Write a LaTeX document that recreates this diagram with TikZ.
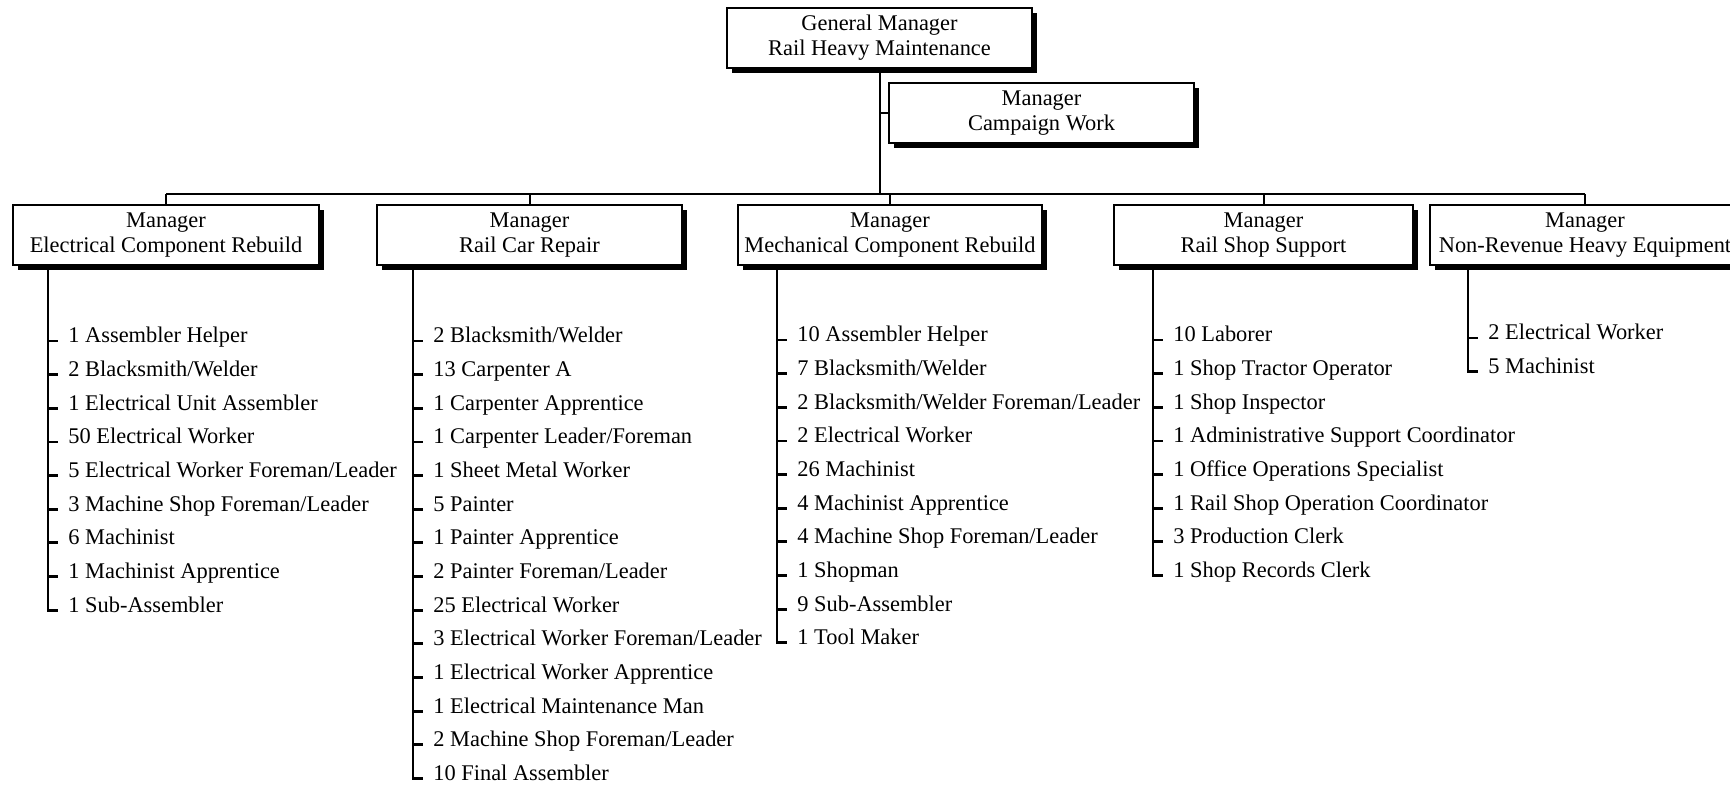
\documentclass[tikz,border=0pt]{standalone}
\usepackage{fontspec}
\setmainfont{Liberation Serif}
\usetikzlibrary{shadows}
\tikzset{
  mgr/.style={draw, line width=0.9pt, fill=white, align=center, inner sep=0pt,
    minimum height=30pt, font=\fontsize{11.2pt}{12.5pt}\selectfont,
    drop shadow={shadow xshift=2.6pt, shadow yshift=-2.6pt, opacity=1, fill=black}},
  itm/.style={anchor=base west, inner sep=0pt, font=\fontsize{11.2pt}{12.5pt}\selectfont},
  conn/.style={line width=1pt},
  vline/.style={line width=1.4pt},
  tick/.style={line width=1.4pt},
}
\newcommand{\stafflist}[4]{%
  \foreach [count=\i] \t in {#4} {
    \node[itm] (#1\i) at ({#2+20},{#3+33.65*(\i-1)}) {\t};
    \draw[tick] ([xshift=-10pt,yshift=1pt]#1\i.base west) -- ([xshift=-5pt,yshift=1pt]#1\i.base west);
  }%
}
\begin{document}
\begin{tikzpicture}[x=0.5pt,y=-0.5pt]
\clip (0,0) rectangle (1730,785);
\fill[white] (0,0) rectangle (1730,785);

% manager boxes
\node[mgr, minimum width=152.5pt] (gm) at (879.5,38) {General Manager\\Rail Heavy Maintenance};
\node[mgr, minimum width=152.5pt] (cw) at (1041.5,113) {Manager\\Campaign Work};
\node[mgr, minimum width=153pt] (m1) at (166,235) {Manager\\Electrical Component Rebuild};
\node[mgr, minimum width=152.5pt] (m2) at (529.5,235) {Manager\\Rail Car Repair};
\node[mgr, minimum width=152pt] (m3) at (890,235) {Manager\\Mechanical Component Rebuild};
\node[mgr, minimum width=149.5pt] (m4) at (1263.5,235) {Manager\\Rail Shop Support};
\node[mgr, minimum width=155pt] (m5) at (1585,235) {Manager\\Non-Revenue Heavy Equipment};

% connectors
\coordinate (bar) at (0,194);
\draw[conn] (gm.south) -- (gm.south |- bar);
\draw[conn] (gm.south |- cw.west) -- (cw.west);
\draw[conn] (m1.north |- bar) -- (m5.north |- bar);
\foreach \m in {m1,m2,m3,m4,m5} {
  \draw[conn] (\m.north |- bar) -- (\m.north);
}

% staff lists
\stafflist{a}{48}{343}{1 Assembler Helper, 2 Blacksmith/Welder, 1 Electrical Unit Assembler, 50 Electrical Worker, 5 Electrical Worker Foreman/Leader, 3 Machine Shop Foreman/Leader, 6 Machinist, 1 Machinist Apprentice, 1 Sub-Assembler}
\coordinate (s1) at (48,265);
\draw[vline] (s1) |- ([xshift=-5pt,yshift=1pt]a9.base west);

\stafflist{b}{413}{343}{2 Blacksmith/Welder, 13 Carpenter A, 1 Carpenter Apprentice, 1 Carpenter Leader/Foreman, 1 Sheet Metal Worker, 5 Painter, 1 Painter Apprentice, 2 Painter Foreman/Leader, 25 Electrical Worker, 3 Electrical Worker Foreman/Leader, 1 Electrical Worker Apprentice, 1 Electrical Maintenance Man, 2 Machine Shop Foreman/Leader, 10 Final Assembler}
\coordinate (s2) at (413,265);
\draw[vline] (s2) |- ([xshift=-5pt,yshift=1pt]b14.base west);

\stafflist{c}{777}{342}{10 Assembler Helper, 7 Blacksmith/Welder, 2 Blacksmith/Welder Foreman/Leader, 2 Electrical Worker, 26 Machinist, 4 Machinist Apprentice, 4 Machine Shop Foreman/Leader, 1 Shopman, 9 Sub-Assembler, 1 Tool Maker}
\coordinate (s3) at (777,265);
\draw[vline] (s3) |- ([xshift=-5pt,yshift=1pt]c10.base west);

\stafflist{d}{1153}{342}{10 Laborer, 1 Shop Tractor Operator, 1 Shop Inspector, 1 Administrative Support Coordinator, 1 Office Operations Specialist, 1 Rail Shop Operation Coordinator, 3 Production Clerk, 1 Shop Records Clerk}
\coordinate (s4) at (1153,265);
\draw[vline] (s4) |- ([xshift=-5pt,yshift=1pt]d8.base west);

\stafflist{e}{1468}{340}{2 Electrical Worker, 5 Machinist}
\coordinate (s5) at (1468,265);
\draw[vline] (s5) |- ([xshift=-5pt,yshift=1pt]e2.base west);
\end{tikzpicture}
\end{document}
